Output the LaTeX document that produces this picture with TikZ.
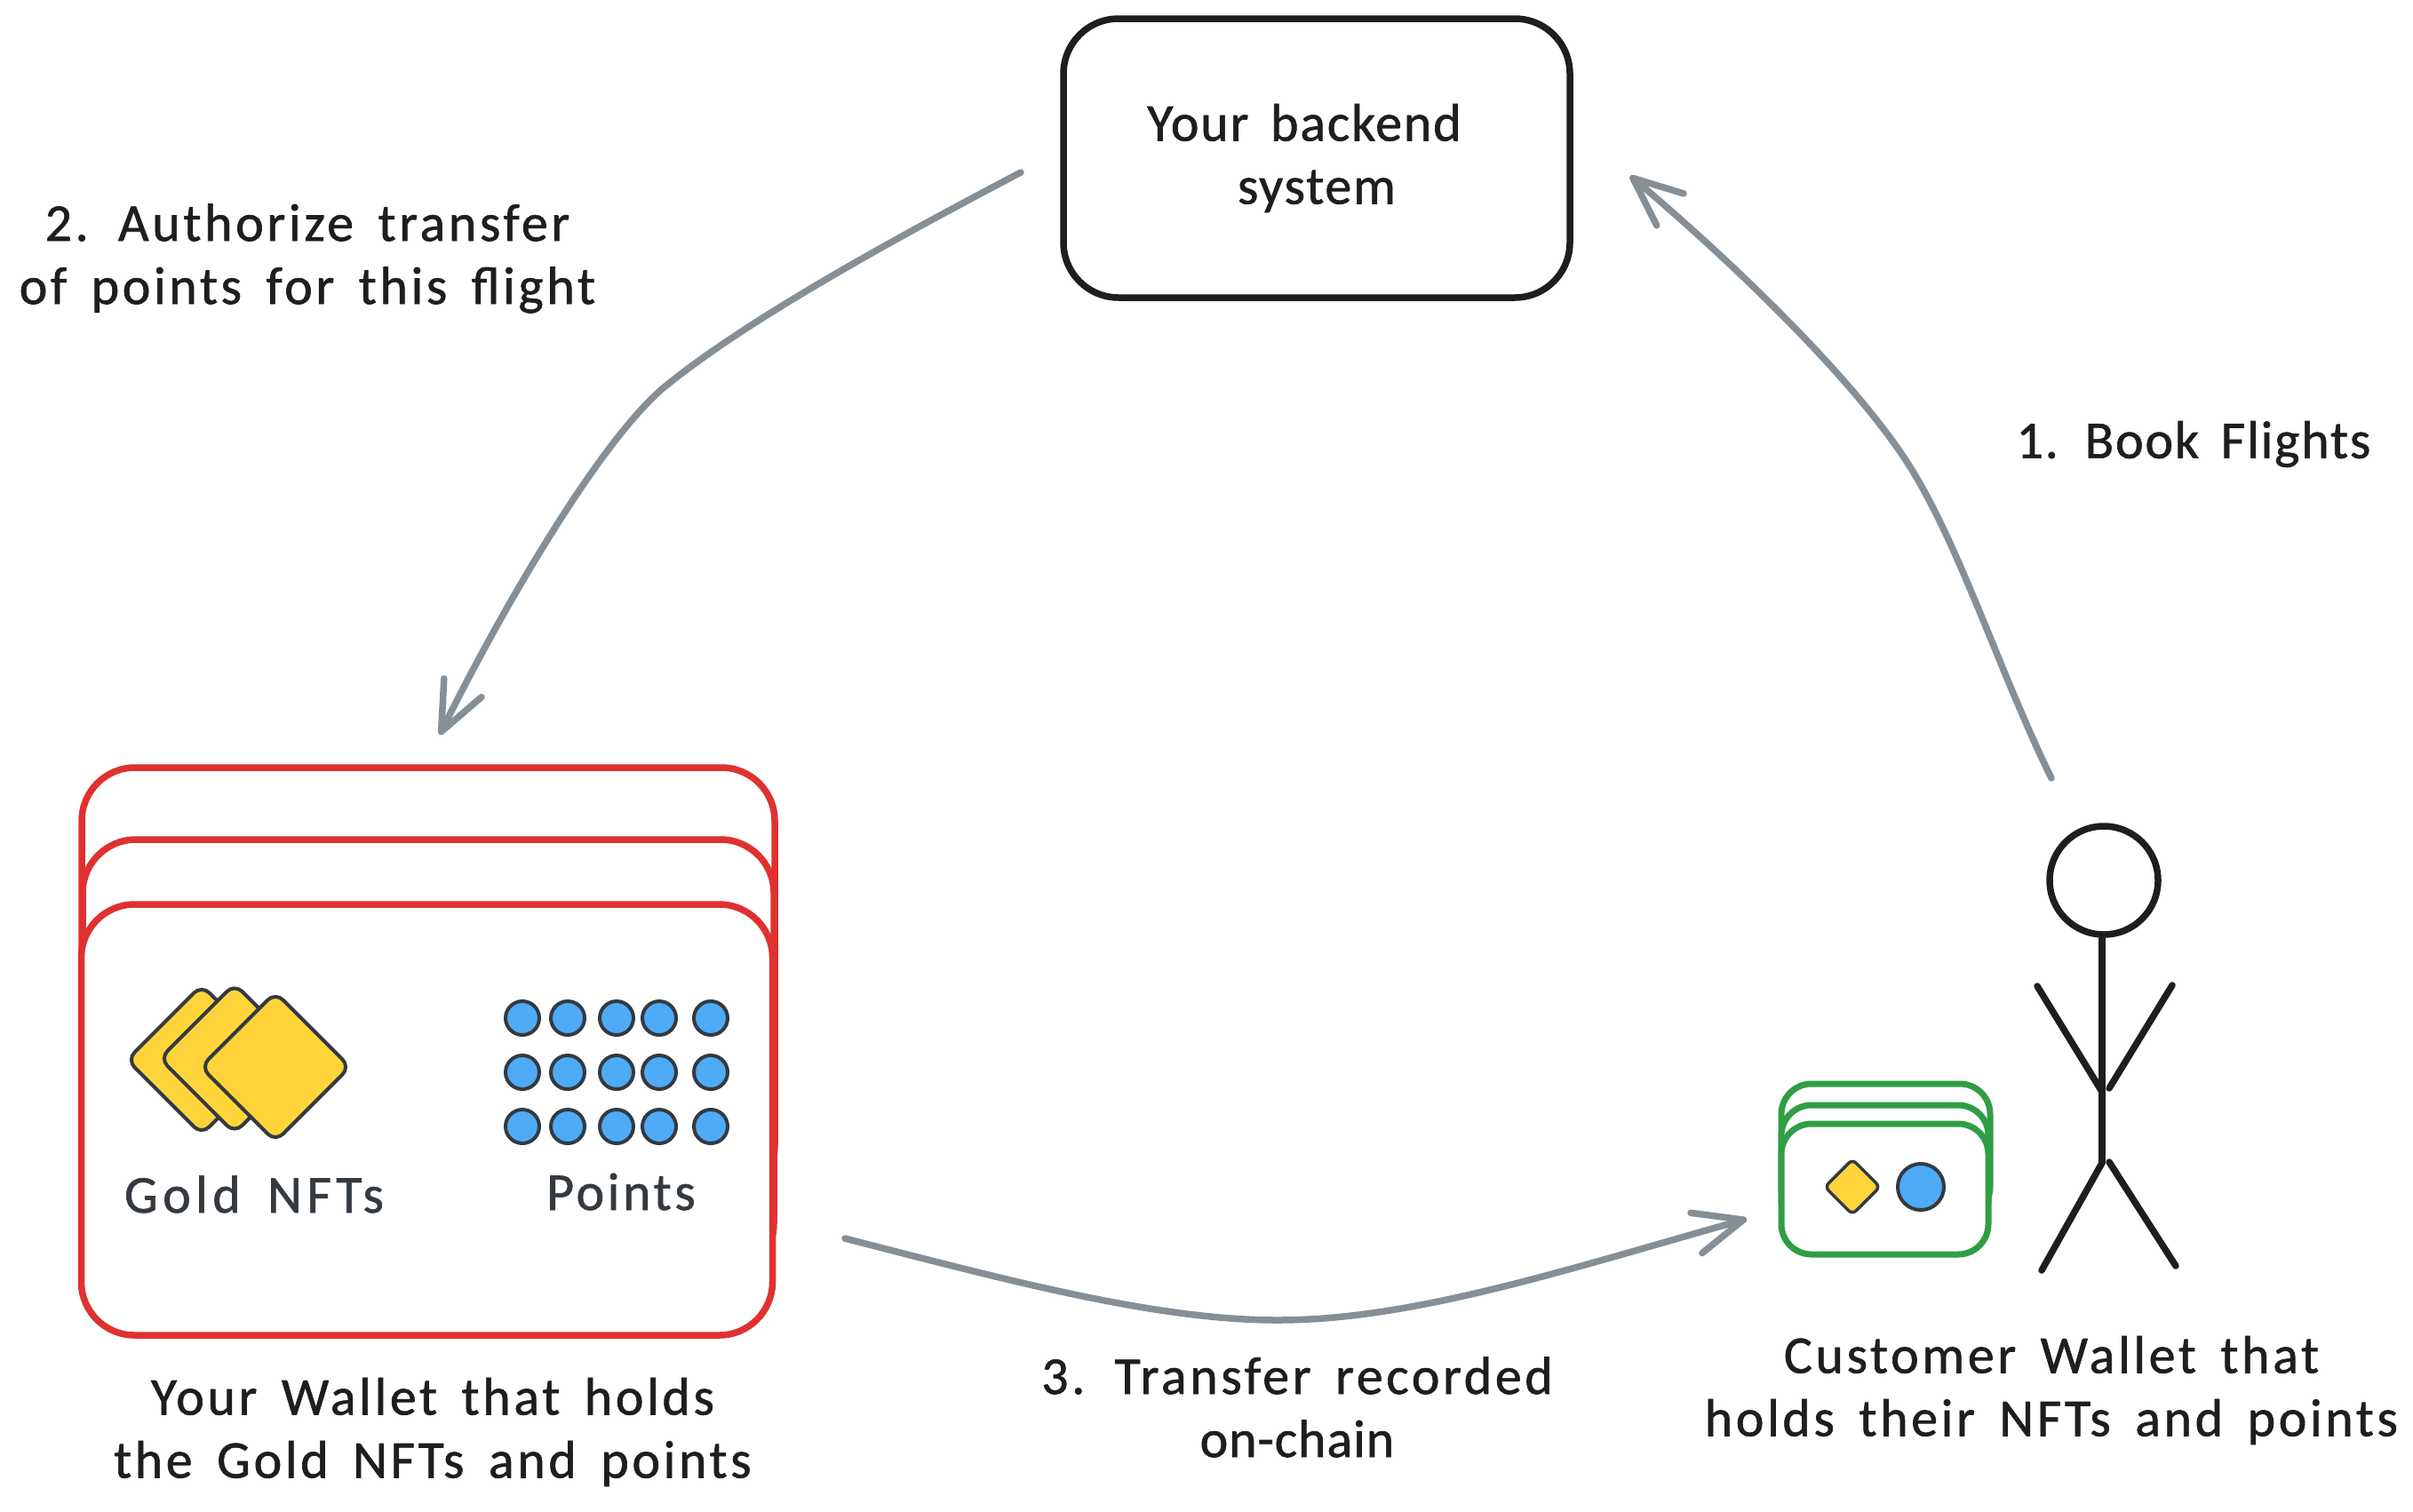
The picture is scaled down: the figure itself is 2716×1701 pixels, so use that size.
\documentclass[tikz,border=0pt]{standalone}
\usepackage{fontspec}
\setmainfont{Carlito}[LetterSpace=6,WordSpace=1.6,FakeBold=1]
\newfontfamily\tighthand{Carlito}[LetterSpace=3,WordSpace=1.6,FakeBold=1]
\newfontfamily\tighterhand{Carlito}[LetterSpace=1.5,WordSpace=1.6,FakeBold=1]
\newfontfamily\widehand{Carlito}[LetterSpace=9,WordSpace=1.6,FakeBold=1]
\usetikzlibrary{arrows.meta,shapes.geometric,positioning}
\definecolor{ink}{HTML}{1E1E1E}
\definecolor{slate}{HTML}{343A40}
\definecolor{flowgrey}{HTML}{868E96}
\definecolor{cardred}{HTML}{E03131}
\definecolor{cardgreen}{HTML}{2F9E44}
\definecolor{gold}{HTML}{FFD43B}
\definecolor{dotblue}{HTML}{4DABF7}
\newcommand{\handsize}{\fontsize{60}{71}\selectfont}
\tikzset{
  every node/.style={inner sep=0pt,outer sep=0pt},
  boxmain/.style={draw=ink,line width=7.5pt,fill=white,rounded corners=62pt,minimum width=570pt,minimum height=314pt,align=center,font=\tighthand\handsize,text=ink},
  redcard/.style={draw=cardred,line width=7.5pt,fill=white,rounded corners=60pt,minimum width=#1},
  greencard/.style={draw=cardgreen,line width=7pt,fill=white,rounded corners=34pt},
  golddiamond/.style={draw=slate,line width=4pt,fill=gold,rounded corners=12pt},
  bluedot/.style={circle,draw=slate,line width=4pt,fill=dotblue,minimum size=38pt},
  stick/.style={draw=ink,line width=7.5pt,line cap=round},
  flow/.style={draw=flowgrey,line width=7.5pt,line cap=round,line join=round,-{Straight Barb[length=55pt,width=47pt,round]}},
  caption/.style={align=center,font=\handsize,text=ink},
  innercaption/.style={align=center,font=\handsize,text=slate}
}
\begin{document}
\begin{tikzpicture}[x=1pt,y=-1pt]
\useasboundingbox[fill=white] (0,0) rectangle (2716,1701);
% backend
\node[boxmain] (backend) at (1482,178) {Your backend\hspace*{28pt}\\system};
% red cards
\node[redcard=780pt,minimum height=486pt] (redback) at (482,1107) {};
\node[redcard=778pt,minimum height=492pt] (redmid) at (482,1191) {};
\node[redcard=778pt,minimum height=485pt] (redfront) at (480.5,1260.5) {};
% gold diamonds
\foreach \n/\cx/\cy in {a/227/1193,b/264/1191.5,c/310/1201}{
  \coordinate (d\n) at (\cx,\cy);
  \draw[golddiamond] (\cx-84,\cy) -- (\cx,\cy-84) -- (\cx+84,\cy) -- (\cx,\cy+84) -- cycle;
}
% dots
\foreach \cx [count=\i] in {588,639,694,742,800}{
  \foreach \cy [count=\j] in {1146,1207,1268}{
    \node[bluedot] (dot\i\j) at (\cx,\cy) {};
  }
}
\node[innercaption,anchor=base] (goldlabel) at (286,1365) {\widehand Gold NFTs};
\node[innercaption,anchor=base] (pointslabel) at (699,1362) {Points};
% green cards
\node[greencard,minimum width=235pt,minimum height=150pt] (greenback) at (2122.5,1295) {};
\node[greencard,minimum width=233pt,minimum height=142pt] (greenmid) at (2121.5,1315) {};
\node[greencard,minimum width=233pt,minimum height=147pt] (greenfront) at (2121.5,1338.5) {};
\draw[draw=slate,line width=3.5pt,fill=gold,rounded corners=6pt] (2054,1336) -- (2085,1305) -- (2116,1336) -- (2085,1367) -- cycle;
\node[circle,draw=slate,line width=4pt,fill=dotblue,minimum size=52pt] (greendot) at (2162,1336) {};
% stick figure
\node[circle,draw=ink,line width=7.5pt,minimum size=122pt] (head) at (2368,991) {};
\coordinate (hip) at (2366,1309);
\coordinate (chest) at (2366,1229);
\draw[stick] (head.south) ++(-2,0) -- (hip);
\draw[stick] (2293,1110) -- (chest);
\draw[stick] (2445,1109) -- (2374,1225);
\draw[stick] (hip) -- (2298,1430);
\draw[stick] (2374,1308) -- (2449,1425);
% captions
\node[caption] (cap2) at (346,291) {2. Authorize transfer\\of points for this flight};
\node[caption,font=\tighthand\handsize] (cap1) at (2469,500) {1. Book Flights};
\node[caption] (capwallet) at (487,1612) {Your Wallet that holds\\the Gold NFTs and points};
\node[caption] (cap3) at (1460,1584) {3. Transfer recorded\\{\tighterhand on-chain}};
\node[caption] (capcust) at (2309,1565) {Customer Wallet that\\holds their NFTs and points};
% flows
\coordinate (f1s) at (2309,876);
\coordinate (f1j) at (2147,521);
\coordinate (f1t) at (1835,198);
\coordinate (f2s) at (1149,194);
\coordinate (f2j) at (745,438);
\coordinate (f2t) at (495,827);
\coordinate (f3s) at (951,1394);
\coordinate (f3j) at (1438,1486);
\coordinate (f3t) at (1966,1372);
\draw[flow] (f1s) .. controls (2250,756) and (2205,611) .. (f1j) .. controls (2085,425) and (1950,295) .. (f1t);
\draw[flow] (f2s) .. controls (1039,252) and (845,355) .. (f2j) .. controls (665,508) and (550,715) .. (f2t);
\draw[flow] (f3s) .. controls (1130,1440) and (1300,1486) .. (f3j) .. controls (1590,1486) and (1760,1430) .. (f3t);
\end{tikzpicture}
\end{document}
